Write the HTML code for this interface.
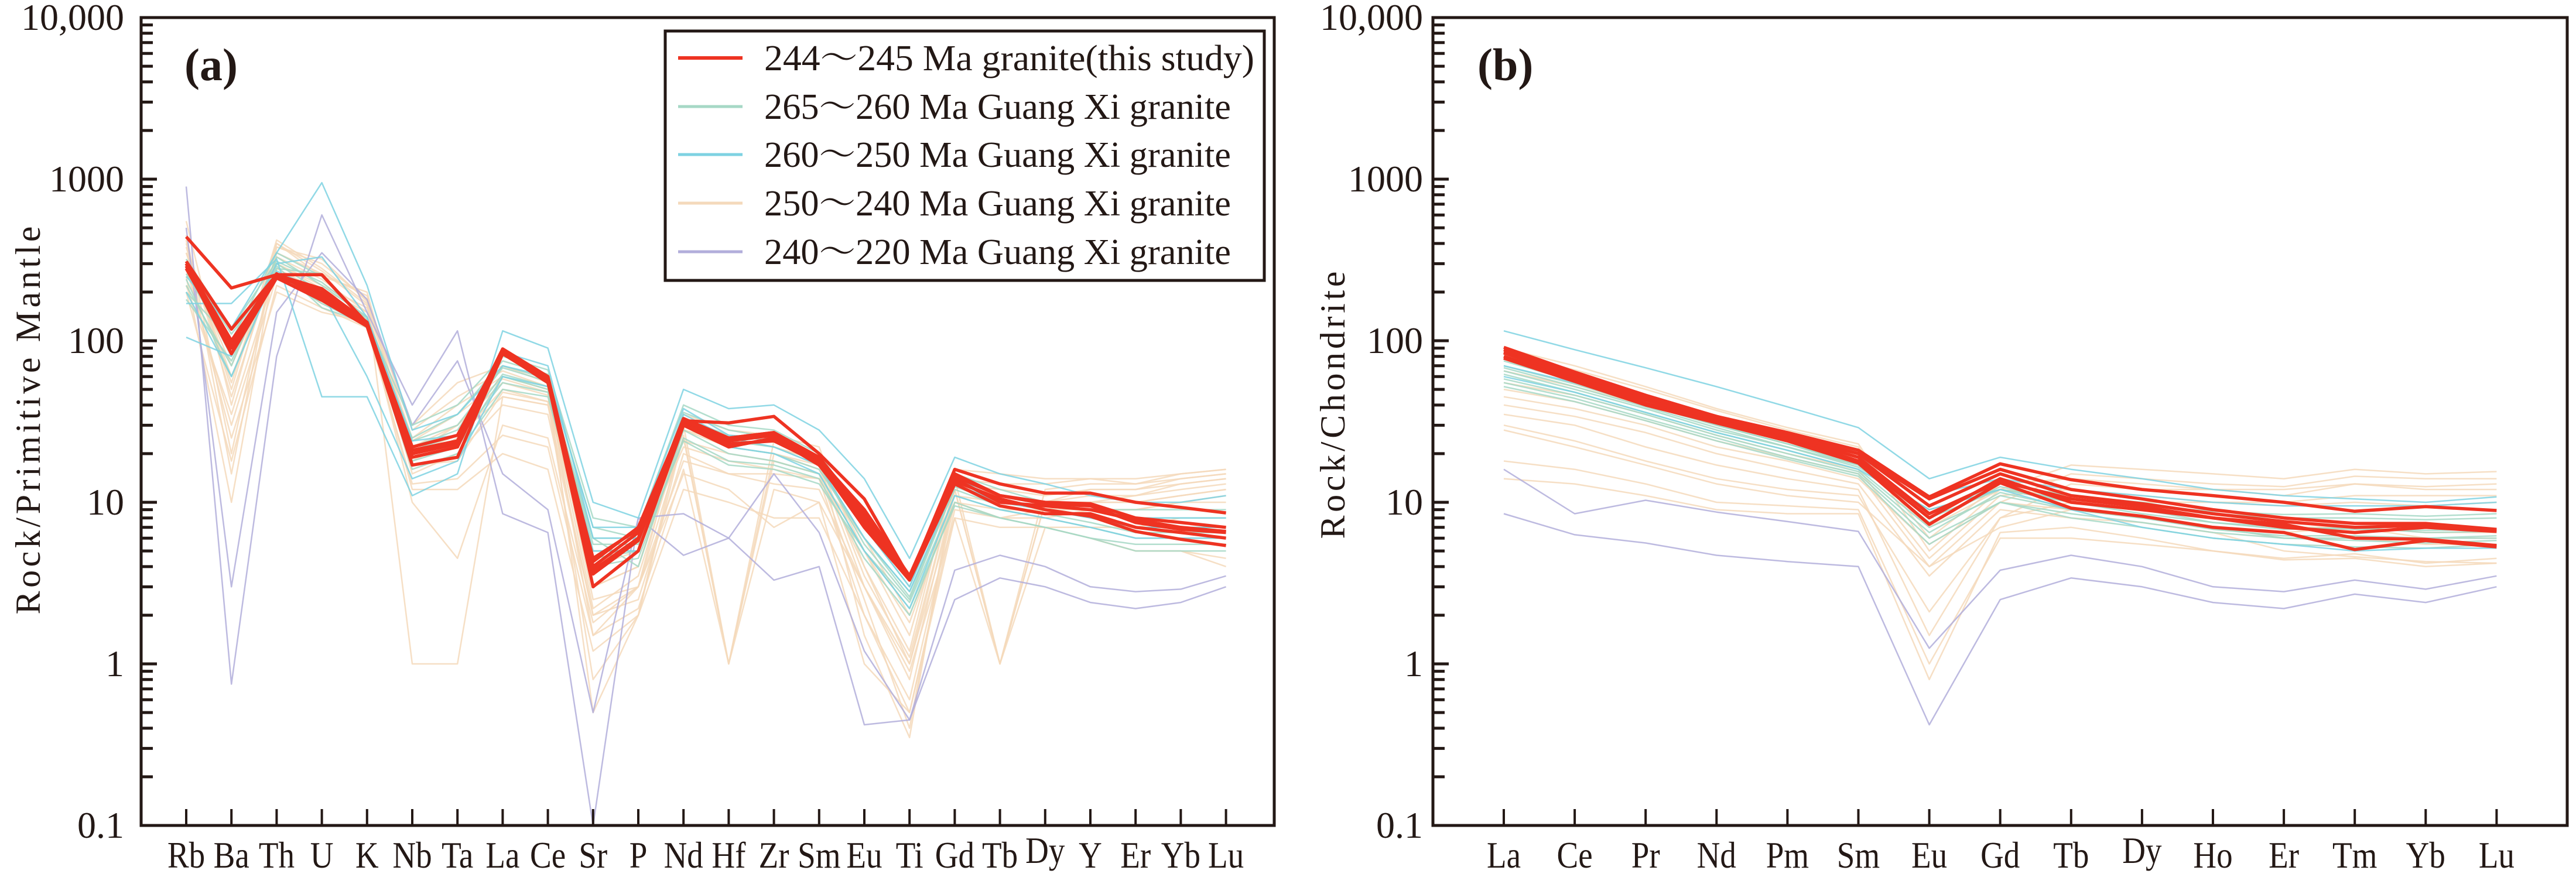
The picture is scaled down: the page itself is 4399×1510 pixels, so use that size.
<!DOCTYPE html>
<html><head><meta charset="utf-8"><style>
html,body{margin:0;padding:0;background:#fff;}
svg{display:block;}
text{font-family:"Liberation Serif","Noto Serif CJK SC",serif;fill:#231815;}
</style></head>
<body>
<svg id="fig" width="4399" height="1510" viewBox="0 0 4399 1510" xmlns="http://www.w3.org/2000/svg"></svg>
<script>
const elemsA=["Rb","Ba","Th","U","K","Nb","Ta","La","Ce","Sr","P","Nd","Hf","Zr","Sm","Eu","Ti","Gd","Tb","Dy","Y","Er","Yb","Lu"];
const elemsB=["La","Ce","Pr","Nd","Pm","Sm","Eu","Gd","Tb","Dy","Ho","Er","Tm","Yb","Lu"];
const yTickLabels=["10,000","1000","100","10","1","0.1"];
const yTickValues=[10000,1000,100,10,1,0.1];
const legendLabels=["244～245 Ma granite(this study)","265～260 Ma Guang Xi granite","260～250 Ma Guang Xi granite","250～240 Ma Guang Xi granite","240～220 Ma Guang Xi granite"];

const redA=[
[440,212,256,256,128,20,24,89,60,4.3,7,32,31,34,20,10.5,3.4,16,13,11.4,11.4,10,9.3,8.6],
[310,118,256,192,125,22,26,86,60,4,6.5,33,25,27,19,8.5,3.5,15,11,10,9.8,8,7.5,7],
[290,83,245,178,123,17,19,83,56,3,5,30,22,25,17,7.5,3.3,13,9.5,8.5,8.5,7,6.5,6],
[300,95,250,200,130,20,23,85,57,3.6,5.8,31,24,26,18,8,3.4,14,10,9.5,9,7.8,7,6.6],
[280,90,260,185,127,21,24,88,58,3.8,6,30,23,24,17.5,7,3.3,13.5,10.5,9,8.2,6.6,5.9,5.4],
[300,100,255,210,130,19,22,84,55,4.5,6.8,32,25,27,18.5,9,3.5,14.5,11,9.8,9.5,7.5,6.8,6.5]];
const tealA=[
[260,90,300,200,130,22,28,70,58,5,5,32,24,22,17,6,2.6,13,10,9,8,7,7,7],
[220,70,330,220,140,18,22,60,50,6,4,28,20,18,15,5,2.4,11,9,8,7,6,6,6],
[300,110,260,170,125,25,35,75,62,7,6,36,28,25,18,7,3,14,11,10,9,8,8,8],
[240,60,280,260,130,20,24,55,48,4,4.5,25,18,17,14,4.5,2,10,8,7,6,5.5,5.5,5.5],
[200,100,350,250,135,30,40,80,66,8,7,40,30,28,20,8,3.5,15,12,10,9,9,9,9],
[280,80,240,190,120,16,20,50,45,4.5,5,24,17,16,13,5,2.2,9.5,8,7,6,5,5,5],
[320,120,310,230,140,24,30,68,56,6,6,30,22,20,16,6,2.8,12,9.5,8.5,7.5,6.5,6.5,6.5],
[180,75,290,160,128,21,26,62,52,5.5,5.5,33,26,24,17,5.5,2.5,12.5,10,9,8,7,7,7]];
const cyanA=[
[170,170,320,45,45,11,15,115,90,10,8,50,38,40,28,14,4.5,19,15,13,11,10,10,11],
[250,120,350,950,220,28,35,70,60,7,7,38,26,25,19,7,3,14,11,10,9,8,8,8],
[105,80,300,330,140,24,26,85,70,6,6,35,25,22,17,6,2.8,13,10,9,8,7,7,7],
[200,60,270,200,60,14,18,60,52,5,5,30,22,20,15,5,2.2,11,9,8,7,6,6,6]];
const tanA=[
[550,40,400,250,200,20,30,60,50,1.5,3,25,1,20,17,3,0.8,12,1,10,12,12,14,15],
[450,20,380,300,180,1,1,45,40,2,2.5,20,15,15,14,2,0.6,10,8,9,10,11,13,14],
[350,60,300,220,160,25,40,60,50,3,4,30,25,22,18,5,1.5,14,13,13,14,14,15,16],
[280,30,250,180,140,15,20,40,35,2,3,18,15,13,12,3,1,10,9,9,10,10,11,12],
[400,50,420,280,170,30,55,70,55,2.5,3,35,28,26,22,4,1.2,16,15,14,14,13,14,15],
[300,25,200,150,130,12,12,20,16,1.2,2,12,10,8,8,2,0.5,9,8,8,9,9,10,11],
[250,10,350,260,190,18,25,50,42,0.8,2,26,1,18,15,2.5,0.4,12,1,10,11,11,12,13],
[380,45,330,240,150,22,30,55,46,3,4,28,22,20,16,4,1,13,12,11,12,12,13,14],
[220,35,280,200,140,10,4.5,30,25,1.8,3,15,12,7,10,3,0.9,8,7,7,7,7,8,8],
[320,70,300,210,150,20,26,45,40,4,5,24,20,18,15,5,1.8,11,10,9,9,9,10,10],
[420,15,380,320,175,28,45,65,52,0.5,2,30,1,24,19,1.5,0.35,14,1,12,13,13,15,16],
[260,90,260,170,130,17,18,48,42,5,5,22,18,16,14,6,2,10,8,7,6,5,5,4.5],
[350,55,400,270,165,24,35,58,48,2.2,3.5,28,24,22,18,3.5,1.1,13,11,10,10,10,11,12],
[200,18,220,160,120,13,14,26,22,1.5,2.2,16,1,12,10,1,0.5,8,1,7,6,5,5,4]];
const lavA=[
[900,0.75,80,600,150,40,115,8.5,6.5,0.1,8,8.5,6,3.3,4,0.42,0.45,2.5,3.4,3,2.4,2.2,2.4,3],
[500,3,150,350,180,30,75,15,9,0.5,8,4.7,6,15,6.5,1.2,0.45,3.8,4.7,4,3,2.8,2.9,3.5]];

const redB=[
[91,64,46,34,27,21,10.8,17.3,13.8,12,11,10,8.8,9.4,8.9],
[85,62,44,33,26,20,10.5,16,12,10.5,9,8,7.4,7.4,6.8],
[80,58,41,32,25,18,8,14,10,9,8,7,6.5,7,6.6],
[78,56,40,31,24,17.5,7.3,13.2,9.2,8.2,7,6.5,5.1,5.8,5.3],
[84,60,43,33,25.5,19,8.5,13.5,10.5,9.4,8,7.3,6,5.9,5.4],
[88,62,45,34,26,20,9.5,15,11,9.8,8.5,7.6,7,7.2,6.7]];
const tealB=[
[62,48,36,27,21,16,7,11,9,8,7,6,6,6,6],
[70,54,40,30,23,17,8,12,10,9,7.5,7,6.8,6.7,6.8],
[55,44,33,25,19,15,6,10,8,7,6,5.5,5.3,5.2,5.5],
[65,50,38,28,22,17,7.5,12.5,10,8.5,7.5,6.8,7,6.5,6.6],
[58,46,35,26,20,15.5,6.5,11.5,9.2,8,6.8,6.2,6.2,6,6.2],
[75,56,41,30,23,17.5,8.5,13,11,10,8.5,8,8,7.8,8],
[52,42,32,24,18.5,14.5,5.5,10,8.5,7.5,6.5,6,5.8,5.6,5.8],
[68,52,39,29,22,16.5,9,12,10.5,9.5,8.8,8.4,8.5,8.2,8.5]];
const cyanB=[
[115,88,68,52,39,29,14,19,16,14,12,11,10.5,10,10.8],
[70,55,42,32,25,19,11,14,12,11,10,9.5,9.5,9.5,10],
[60,48,36,27,21,16,9,12,9,7,6,5.5,5,5.2,5.2]];
const tanB=[
[90,70,52,38,29,23,5,12,17,16,15,14,16,15,15.5],
[50,42,32,24,19,15,4,10,15,14,13,12.5,14.5,14,14],
[30,24,18,14,12,11,2.1,8,13,12,12,11,13,12,12],
[28,22,17,13,11,10,4,7,9,8,7,6.5,7,6,6],
[18,16,13,10,9.5,9,1,6,6,5.5,5,4.5,4.8,4.2,4.5],
[14,13,11,9,8.5,8.5,0.8,6.5,7,6,5,4.4,4.5,4,4.2],
[45,38,30,22,18,14,5.5,10,9,8,7,6,6,5.5,5.5],
[85,66,50,37,28,22,6,13,14,13,12,12,13,12.5,13],
[40,34,27,20,16,13,3.5,9,8,7.5,6.5,5,4.6,4.3,4.2],
[65,52,40,30,23,18,7,12,11,9.5,8,7,7,6.5,6.5],
[35,30,22,17,14,12,1.5,8,10,10,10,10,11,11,11],
[55,46,35,26,20,16,4.5,11,12,11,10,9.5,10,9.5,10]];
const lavB=[
[8.5,6.3,5.6,4.7,4.3,4.0,0.42,2.5,3.4,3.0,2.4,2.2,2.7,2.4,3.0],
[16,8.5,10.3,8.7,7.6,6.6,1.25,3.8,4.7,4.0,3.0,2.8,3.3,2.9,3.5]];

const NS="http://www.w3.org/2000/svg";
const svg=document.getElementById('fig');
function mk(tag,attrs,parent){const e=document.createElementNS(NS,tag);for(const k in attrs)e.setAttribute(k,attrs[k]);(parent||svg).appendChild(e);return e;}

const TOP=30,BOT=1410,DEC=276;
function yScale(v){return 1134-Math.log10(v)*DEC;}

const COLORS={red:"#ee3322",teal:"#a6d8c6",cyan:"#7ed2e2",tan:"#f4d9bb",lav:"#b2aedb"};

function panel(id,x0,x1,firstX,step,elems,groups,title,tlen,tcx,tcy,letter,lx,tickRightX){
  const g=mk('g',{});
  
  
  const xScale=i=>firstX+i*step;
  groups.forEach(([name,rows,color,w])=>{
    rows.forEach((r,ri)=>{
      let d="";
      r.forEach((v,i)=>{d+=(i?"L":"M")+xScale(i).toFixed(1)+","+yScale(v).toFixed(1);});
      const p=mk('path',{d:d,fill:"none",stroke:color,"stroke-width":w,"stroke-linejoin":"round","stroke-opacity":name==="red"?1:0.85},g);
      
      
    });
  });
  const fr=mk('rect',{x:x0,y:TOP,width:x1-x0,height:BOT-TOP,fill:"none",stroke:"#231815","stroke-width":5},g);
  
  
  const ax=mk('g',{},g);
  
  
  yTickValues.forEach((v,i)=>{
    const y=yScale(v);
    if(i>0){mk('line',{x1:x0,x2:x0+27,y1:y,y2:y,stroke:"#231815","stroke-width":5},ax);}
    if(i<yTickValues.length-1){
      for(let m=2;m<=9;m++){const ym=yScale(v/10*m);mk('line',{x1:x0,x2:x0+20,y1:ym,y2:ym,stroke:"#231815","stroke-width":5},ax);}
    }
    const t=mk('text',{x:tickRightX,y:y+21,"font-size":64,"text-anchor":"end"},ax);
    t.textContent=yTickLabels[i];
    
    
  });
  const xa=mk('g',{},g);
  
  
  elems.forEach((e,i)=>{
    const x=xScale(i);
    mk('line',{x1:x,x2:x,y1:BOT,y2:BOT-28,stroke:"#231815","stroke-width":4},xa);
    const t=mk('text',{x:x,y:(e==="Dy"?1474:1482),"font-size":64,"text-anchor":"middle",transform:`translate(${x},0) scale(0.86,1) translate(${-x},0)`},xa);
    t.textContent=e;
    
    
  });
  const tt=mk('text',{x:tcx,y:tcy,"font-size":60,"text-anchor":"middle",textLength:tlen,lengthAdjust:"spacing",transform:`rotate(-90 ${tcx} ${tcy})`},g);
  tt.textContent=title;
  
  
  const lt=mk('text',{x:lx,y:137,"font-size":78,"font-weight":"bold"},g);
  lt.textContent=letter;
  
  
}

panel('a',241,2176,318,77.2,elemsA,[["tan",tanA,COLORS.tan,2.5],["lavender",lavA,COLORS.lav,2.5],["teal",tealA,COLORS.teal,2.5],["cyan",cyanA,COLORS.cyan,2.5],["red",redA,COLORS.red,5.5]],
  "Rock/Primitive Mantle",663,68,718,"(a)",315,212);
panel('b',2447,4384,2568,121.1,elemsB,[["tan",tanB,COLORS.tan,2.5],["lavender",lavB,COLORS.lav,2.5],["teal",tealB,COLORS.teal,2.5],["cyan",cyanB,COLORS.cyan,2.5],["red",redB,COLORS.red,5.5]],
  "Rock/Chondrite",457,2296,692,"(b)",2523,2430);

const lg=mk('g',{});


const lb=mk('rect',{x:1136,y:53,width:1023,height:426,fill:"#fff",stroke:"#231815","stroke-width":5},lg);


const legColors=[COLORS.red,COLORS.teal,COLORS.cyan,COLORS.tan,COLORS.lav];
const legY=[99,182,264,347,430];
const legLen=[837,797,797,797,797];
legendLabels.forEach((s,i)=>{
  const e=mk('g',{},lg);
  
  
  mk('line',{x1:1158,x2:1268,y1:legY[i],y2:legY[i],stroke:legColors[i],"stroke-width":i===0?6:5},e);
  const t=mk('text',{x:1305,y:legY[i]+21,"font-size":62,textLength:legLen[i],lengthAdjust:"spacingAndGlyphs"},e);
  t.textContent=s;
});
</script>
</body></html>
